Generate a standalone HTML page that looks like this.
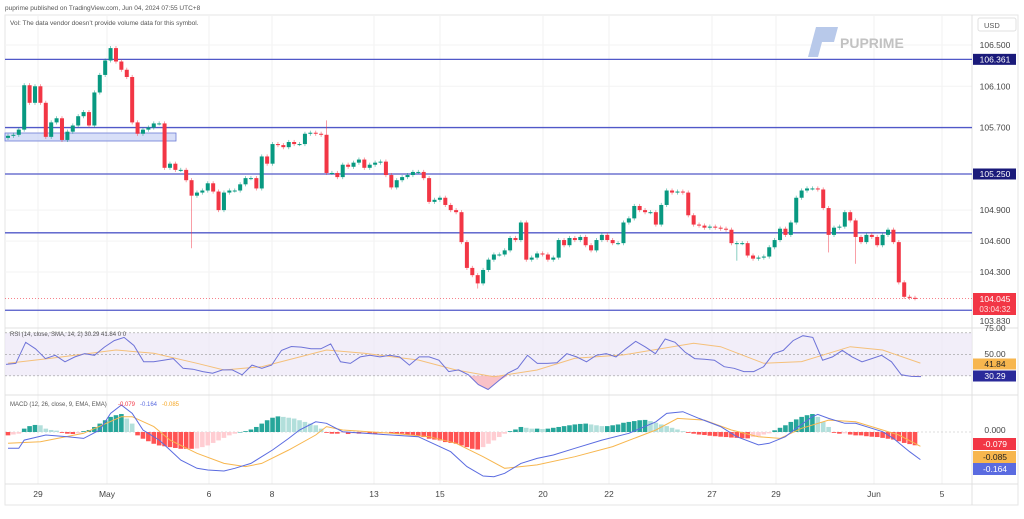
<!DOCTYPE html>
<html><head><meta charset="utf-8"><style>
body{margin:0;background:#fff;width:1024px;height:514px;overflow:hidden;font-family:"Liberation Sans",sans-serif}
svg text{font-family:"Liberation Sans",sans-serif}
</style></head><body>
<svg id="c" width="1024" height="514" xmlns="http://www.w3.org/2000/svg"></svg>
<script>
const closes=[105.62,105.63,105.68,106.11,105.94,106.10,105.94,105.61,105.75,105.79,105.58,105.66,105.72,105.81,105.85,105.72,106.04,106.21,106.35,106.47,106.34,106.26,106.19,105.75,105.64,105.68,105.70,105.74,105.74,105.31,105.35,105.29,105.29,105.19,105.04,105.07,105.09,105.16,105.08,104.90,105.07,105.09,105.09,105.15,105.21,105.21,105.11,105.42,105.35,105.54,105.53,105.51,105.56,105.54,105.54,105.64,105.65,105.64,105.63,105.26,105.26,105.22,105.34,105.32,105.36,105.39,105.31,105.34,105.36,105.37,105.24,105.12,105.19,105.22,105.24,105.27,105.27,105.21,104.98,105.00,105.02,104.95,104.90,104.88,104.59,104.34,104.27,104.19,104.32,104.42,104.47,104.47,104.51,104.63,104.61,104.78,104.42,104.44,104.48,104.47,104.42,104.44,104.61,104.56,104.63,104.61,104.64,104.56,104.51,104.61,104.66,104.61,104.58,104.58,104.78,104.82,104.94,104.90,104.88,104.88,104.76,104.95,105.09,105.07,105.08,105.07,104.85,104.76,104.75,104.73,104.74,104.73,104.72,104.71,104.58,104.58,104.58,104.46,104.43,104.44,104.45,104.54,104.61,104.72,104.66,104.78,105.02,105.09,105.11,105.11,105.10,104.92,104.66,104.73,104.74,104.88,104.80,104.64,104.59,104.66,104.64,104.56,104.66,104.71,104.59,104.20,104.06,104.05,104.045];
const firstOpen=105.60;
const wickIdx=[19,34,29,59,85,86,87,135,152,157,163];
const wickExt=[106.49,104.53,105.36,105.77,104.50,104.25,104.14,104.41,104.49,104.38,104.73];
const levels=[106.361,105.70,105.25,104.68,103.93];
const priceTicks=[106.5,106.1,105.7,104.9,104.6,104.3];
const rsiVals=[40.6,41.5,61.2,55.1,46.0,49.1,43.0,47.6,50.6,49.1,56.7,62.7,65.7,58.2,43.0,43.0,44.5,46.0,37.0,36.1,33.9,32.4,35.5,35.5,30.9,40.0,37.0,40.0,53.6,57.3,56.7,55.1,55.1,59.7,43.0,41.5,47.6,49.1,47.6,49.1,47.6,40.0,47.6,47.6,44.5,33.9,35.5,30.9,21.8,17.3,24.8,32.4,37.0,49.1,41.5,41.5,42.1,50.6,47.6,43.0,49.1,50.6,47.6,55.1,62.1,56.7,50.6,64.2,61.2,52.1,46.0,45.4,44.5,38.5,37.0,33.9,33.9,38.5,50.6,53.6,62.7,67.3,65.7,44.5,47.6,53.6,47.6,43.0,46.0,49.1,43.0,30.9,29.4,29.3];
const rsiMaIdx=[0,8,20,27,35,40,47,59,66,76,83,90,98,105,114,127,132,140,147,156,162,169];
const rsiMaVals=[41.6,46.3,54.0,50.9,41.6,35.4,38.5,54.0,50.9,44.7,35.4,29.2,35.4,46.3,49.4,60.2,57.1,41.6,43.2,57.1,54.0,41.8];
const macdIdx=[0,2,3,7,11,14,17,19,21,23,25,28,30,32,35,37,40,42,45,47,49,52,54,57,59,62,66,71,76,78,82,85,88,90,92,95,98,101,105,110,115,120,122,125,128,132,135,139,141,144,146,149,150,152,155,157,160,162,164,167,169];
const macdVals=[-0.097,-0.097,-0.048,-0.018,-0.028,-0.038,0.012,0.111,0.161,0.111,0.012,-0.048,-0.107,-0.167,-0.216,-0.226,-0.232,-0.216,-0.187,-0.147,-0.107,-0.038,0.012,0.061,0.052,0.002,-0.008,-0.018,-0.028,-0.058,-0.117,-0.206,-0.262,-0.266,-0.246,-0.187,-0.157,-0.137,-0.097,-0.048,-0.008,0.061,0.111,0.121,0.081,0.032,-0.028,-0.077,-0.067,-0.028,0.022,0.091,0.105,0.081,0.052,0.052,0.022,0.002,-0.038,-0.117,-0.164];
const sigIdx=[0,6,14,21,23,27,30,35,40,44,47,52,57,59,62,71,78,83,88,92,98,105,112,120,124,129,134,139,143,147,152,157,162,165,169];
const sigVals=[-0.067,-0.058,-0.008,0.091,0.091,0.032,-0.048,-0.127,-0.187,-0.206,-0.187,-0.107,-0.018,0.032,0.012,-0.008,-0.028,-0.067,-0.147,-0.216,-0.196,-0.147,-0.087,0.012,0.081,0.071,0.012,-0.028,-0.038,0.022,0.071,0.061,0.012,-0.018,-0.085];
const hist=[-0.02,-0.015,-0.01,0.02,0.035,0.042,0.04,0.02,0.012,0.008,-0.005,-0.01,-0.012,-0.008,0.005,0.012,0.03,0.05,0.07,0.09,0.1,0.107,0.08,0.05,-0.02,-0.04,-0.055,-0.07,-0.08,-0.085,-0.09,-0.095,-0.1,-0.1,-0.1,-0.098,-0.09,-0.08,-0.065,-0.05,-0.035,-0.02,-0.01,0.0,0.005,0.015,0.03,0.05,0.07,0.085,0.093,0.09,0.085,0.08,0.07,0.06,0.05,0.04,0.02,-0.005,-0.01,-0.01,-0.005,-0.012,-0.008,-0.01,-0.005,-0.008,-0.012,-0.01,-0.005,-0.008,-0.01,-0.01,-0.015,-0.02,-0.025,-0.03,-0.04,-0.045,-0.05,-0.06,-0.065,-0.07,-0.08,-0.09,-0.1,-0.104,-0.09,-0.07,-0.05,-0.03,-0.01,0.005,0.015,0.03,0.025,0.02,0.02,0.018,0.02,0.025,0.03,0.035,0.04,0.045,0.048,0.05,0.045,0.04,0.035,0.035,0.04,0.045,0.055,0.06,0.065,0.07,0.072,0.065,0.055,0.045,0.035,0.025,0.015,0.005,-0.005,-0.01,-0.015,-0.018,-0.022,-0.025,-0.028,-0.03,-0.033,-0.035,-0.037,-0.038,-0.03,-0.025,-0.015,-0.008,0.01,0.025,0.04,0.06,0.075,0.09,0.1,0.107,0.09,0.06,0.03,-0.005,-0.01,-0.008,-0.015,-0.02,-0.02,-0.025,-0.028,-0.03,-0.035,-0.04,-0.045,-0.055,-0.065,-0.072,-0.079];
const dateLabels=["29","May","6","8","13","15","20","22","27","29","Jun","5"];
const dateX=[38,107,209,272,374,440,543,609,712,776,874,942];

const S=document.getElementById('c');const NS='http://www.w3.org/2000/svg';
function mk(t,a,name,txt){const e=document.createElementNS(NS,t);for(const k in a)e.setAttribute(k,a[k]);


if(txt!==undefined)e.textContent=txt;S.appendChild(e);return e;}
const N=closes.length;
const xAt=i=>8+i*(907/(N-1));
const yP=p=>45+(106.5-p)*103.2;
const yR=v=>354.3-(v-50)*1.075;
const yM=v=>432-v*168;
const G='#089981',R='#f23645';

// frame & grid
mk('rect',{x:5,y:15,width:1013,height:490,fill:'none',stroke:'#e6e6e6'},'chart-frame');
dateX.forEach((x,i)=>mk('line',{x1:x,y1:15,x2:x,y2:484,stroke:'#f2f2f2'},'grid-v'));
priceTicks.forEach(p=>mk('line',{x1:5,y1:yP(p),x2:972,y2:yP(p),stroke:'#f3f3f3'},'grid-h'));
mk('line',{x1:5,y1:328,x2:1018,y2:328,stroke:'#e0e0e0'},'pane-sep');
mk('line',{x1:5,y1:395,x2:1018,y2:395,stroke:'#e0e0e0'},'pane-sep');
mk('line',{x1:5,y1:484,x2:1018,y2:484,stroke:'#e0e0e0'},'time-axis-line');
mk('line',{x1:972,y1:15,x2:972,y2:505,stroke:'#e0e0e0'},'price-axis-line');

// texts
mk('text',{x:5,y:10,'font-size':6.5,fill:'#555'},'publish-note','puprime published on TradingView.com, Jun 04, 2024 07:55 UTC+8');
mk('text',{x:10,y:25,'font-size':6.5,fill:'#555'},'volume-note','Vol: The data vendor doesn\u2019t provide volume data for this symbol.');
// watermark
mk('path',{d:'M808 57 L816 27 L838 27 L834 42 L822 42 L818 57 Z',fill:'#b8c9ea'},'logo-mark');
mk('text',{x:840,y:48,'font-size':14,'font-weight':'bold',fill:'#c2c2c2'},'logo-text','PUPRIME');

// zone
mk('rect',{x:5,y:133,width:171,height:8,fill:'#c8d2f5',stroke:'#6b7bd6','stroke-width':0.8,'fill-opacity':0.7},'support-zone');
// levels
levels.forEach(l=>mk('line',{x1:5,y1:yP(l),x2:972,y2:yP(l),stroke:'#5058c8','stroke-width':1.3},'level-line'));
mk('line',{x1:5,y1:yP(104.045),x2:972,y2:yP(104.045),stroke:'#f23645','stroke-width':0.6,'stroke-dasharray':'1 2'},'last-price-line');

// candles
for(let i=0;i<N;i++){const o=i?closes[i-1]:firstOpen,c=closes[i];const col=c>=o?G:R;
 let hi=Math.max(o,c)+0.02,lo=Math.min(o,c)-0.02;const w=wickIdx.indexOf(i);
 if(w>=0){if(wickExt[w]>hi)hi=wickExt[w];if(wickExt[w]<lo)lo=wickExt[w];}
 const x=xAt(i);mk('line',{x1:x,y1:yP(hi),x2:x,y2:yP(lo),stroke:col,'stroke-width':0.8,'stroke-opacity':0.6},'candle-wick');
 const y1=yP(Math.max(o,c)),y2=yP(Math.min(o,c));
 mk('rect',{x:x-2,y:y1,width:4,height:Math.max(1,y2-y1),fill:col},'candle-body');}

// RSI
mk('rect',{x:5,y:yR(70),width:967,height:yR(30)-yR(70),fill:'#ede7f6','fill-opacity':0.7},'rsi-band');
[70,50,30].forEach(v=>mk('line',{x1:5,y1:yR(v),x2:972,y2:yR(v),stroke:'#9a9a9a','stroke-dasharray':'2 2','stroke-width':0.7},'rsi-level'));
const rx=i=>6+i*(915/(rsiVals.length-1));
let rp=rsiVals.map((v,i)=>rx(i).toFixed(1)+','+yR(v).toFixed(1));
// oversold fill
let os='';rsiVals.forEach((v,i)=>{os+=(i?'L':'M')+rx(i).toFixed(1)+','+yR(Math.min(v,30)).toFixed(1);});
os+='L'+rx(rsiVals.length-1)+','+yR(30)+'L6,'+yR(30)+'Z';
mk('path',{d:os,fill:'#f7a8b0','fill-opacity':0.7},'rsi-oversold-fill');
mk('polyline',{points:rsiMaIdx.map((k,i)=>xAt(k).toFixed(1)+','+yR(rsiMaVals[i]).toFixed(1)).join(' '),fill:'none',stroke:'#f5c07a','stroke-width':1},'rsi-ma-line');
mk('polyline',{points:rp.join(' '),fill:'none',stroke:'#6e73d8','stroke-width':1},'rsi-line');
mk('text',{x:10,y:336,'font-size':6,fill:'#555'},'rsi-legend','RSI (14, close, SMA, 14, 2)  30.29  41.84  0  0');

// MACD
mk('line',{x1:5,y1:yM(0),x2:972,y2:yM(0),stroke:'#bbb','stroke-dasharray':'2 2','stroke-width':0.6},'macd-zero');
hist.forEach((v,i)=>{const p=i?hist[i-1]:0;let col;
 if(v>=0)col=v>=p?'#26a69a':'#b2dfdb';else col=v<=p?'#ff5252':'#ffcdd2';
 const x=xAt(i);mk('rect',{x:x-2.3,y:Math.min(yM(v),yM(0)),width:4.6,height:Math.max(0.5,Math.abs(yM(v)-yM(0))),fill:col},'macd-hist-bar');});
mk('polyline',{points:sigIdx.map((k,i)=>xAt(k).toFixed(1)+','+yM(sigVals[i]).toFixed(1)).join(' '),fill:'none',stroke:'#f7b64e','stroke-width':1},'macd-signal-line');
mk('polyline',{points:macdIdx.map((k,i)=>xAt(k).toFixed(1)+','+yM(macdVals[i]).toFixed(1)).join(' '),fill:'none',stroke:'#5a6be0','stroke-width':1},'macd-line');
mk('text',{x:10,y:406,'font-size':6,fill:'#555'},'macd-legend','MACD (12, 26, close, 9, EMA, EMA)');
mk('text',{x:118,y:406,'font-size':6,fill:'#f23645'},'macd-legend-hist','-0.079');
mk('text',{x:140,y:406,'font-size':6,fill:'#5a6be0'},'macd-legend-macd','-0.164');
mk('text',{x:162,y:406,'font-size':6,fill:'#f5a623'},'macd-legend-signal','-0.085');

// axis labels
const ax=(y,t,n)=>mk('text',{x:995,y:y+3,'font-size':8.5,fill:'#444','text-anchor':'middle'},n,t);
mk('rect',{x:978,y:18,width:38,height:13,fill:'#fff',stroke:'#e0e0e0',rx:2},'currency-box');
mk('text',{x:984,y:28,'font-size':7.5,fill:'#555'},'currency-label','USD');
priceTicks.forEach(p=>ax(yP(p),p.toFixed(3),'price-tick'));
ax(321,'103.830','price-tick');
const box=(y,h,col,t,n,tc)=>{mk('rect',{x:973,y:y-h/2,width:43,height:h,fill:col},n+'-bg');mk('text',{x:995,y:y+3,'font-size':8.5,fill:tc||'#fff','text-anchor':'middle'},n,t);};
box(yP(106.361),11,'#1a1a7a','106.361','level-label');
box(yP(105.25),11,'#1a1a7a','105.250','level-label');
mk('rect',{x:973,y:293,width:43,height:22,fill:'#f23645'},'last-price-bg');
mk('text',{x:995,y:302,'font-size':8.5,fill:'#fff','text-anchor':'middle'},'last-price','104.045');
mk('text',{x:995,y:312,'font-size':8,fill:'#ffe0e0','text-anchor':'middle'},'countdown','03:04:32');
ax(328,'75.00','rsi-tick');ax(354,'50.00','rsi-tick');
box(364,11,'#f7b64e','41.84','rsi-ma-label','#222');
box(376,11,'#2a2a9a','30.29','rsi-label');
ax(430,'0.000','macd-tick');
box(444,12,'#f23645','-0.079','macd-hist-label');
box(457,12,'#f7b64e','-0.085','macd-signal-label','#222');
box(469,12,'#5a6be0','-0.164','macd-label');
dateLabels.forEach((d,i)=>mk('text',{x:dateX[i],y:497,'font-size':8.5,fill:'#444','text-anchor':'middle'},'date-label',d));
</script>
</body></html>
